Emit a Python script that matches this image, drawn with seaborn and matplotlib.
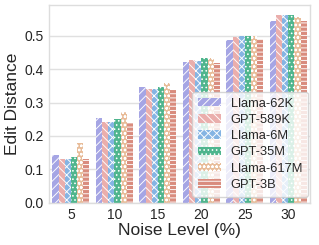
import pandas as pd
import matplotlib
matplotlib.use("Agg")
import matplotlib.pyplot as plt
import seaborn as sns

# Values
noise_levels = ["5", "10", "15", "20", "25", "30"]
models = ["Llama-62K", "GPT-589K", "Llama-6M", "GPT-35M", "Llama-617M", "GPT-3B"]
llama_62k = [0.143, 0.253, 0.346, 0.423, 0.488, 0.545]
gpt_589k = [0.132, 0.242, 0.340, 0.428, 0.496, 0.563]
llama_6m = [0.130, 0.242, 0.340, 0.425, 0.500, 0.563]
gpt_35m = [0.136, 0.250, 0.346, 0.433, 0.500, 0.563]
llama_617m = [0.178, 0.273, 0.358, 0.433, 0.500, 0.556]
gpt_3b = [0.132, 0.240, 0.338, 0.418, 0.490, 0.545]

colors = ["#9a9aef", "#f4a4a2", "#76b4f2", "#3ec690", "#f5ba8c", "#e8826f"]
hatches = ["//", "\\\\", "xx", "..", "oo", "--"]

series = [llama_62k, gpt_589k, llama_6m, gpt_35m, llama_617m, gpt_3b]
rows = []
for m, vals in zip(models, series):
    for lvl, v in zip(noise_levels, vals):
        rows.append({"Noise": lvl, "Model": m, "Edit Distance": v})
df = pd.DataFrame(rows)

sns.set_style("whitegrid")
plt.rcParams["font.family"] = ["Liberation Sans", "DejaVu Sans"]
plt.rcParams["hatch.color"] = "white"
plt.rcParams["hatch.linewidth"] = 1.3

# large figure at low dpi, so hatches come out dense like the original
fig = plt.figure(figsize=(6.38, 4.9), dpi=50)
ax = fig.add_axes([0.154, 0.173, 0.818, 0.807])

sns.barplot(data=df, x="Noise", y="Edit Distance", hue="Model",
            order=noise_levels, hue_order=models, palette=colors,
            width=0.85, ax=ax, edgecolor="white", linewidth=0)

for cont, h in zip(ax.containers, hatches):
    for bar in cont:
        bar.set_hatch(h)

ax.set_ylim(0, 0.593)
ax.set_yticks([0.0, 0.1, 0.2, 0.3, 0.4, 0.5])
ax.set_xlabel("Noise Level (%)", fontsize=25, labelpad=2)
ax.set_ylabel("Edit Distance", fontsize=25, labelpad=6)
ax.tick_params(axis="both", labelsize=20, pad=4)
ax.xaxis.grid(False)
ax.yaxis.grid(True, linewidth=2, color="#e0e0e0")
for s in ax.spines.values():
    s.set_color("#dddddd")
    s.set_linewidth(2)

handles, labels = ax.get_legend_handles_labels()
for hd, h in zip(handles, hatches):
    hd.set_hatch(h)
leg = ax.legend(handles, labels, loc="lower right", fontsize=18.5,
                handlelength=1.75, handleheight=0.65, labelspacing=0.33,
                borderpad=0.45, handletextpad=0.8, framealpha=0.8,
                borderaxespad=0, bbox_to_anchor=(0.992, 0.03))
leg.get_frame().set_linewidth(2)

fig.savefig("out.png", dpi=50)
